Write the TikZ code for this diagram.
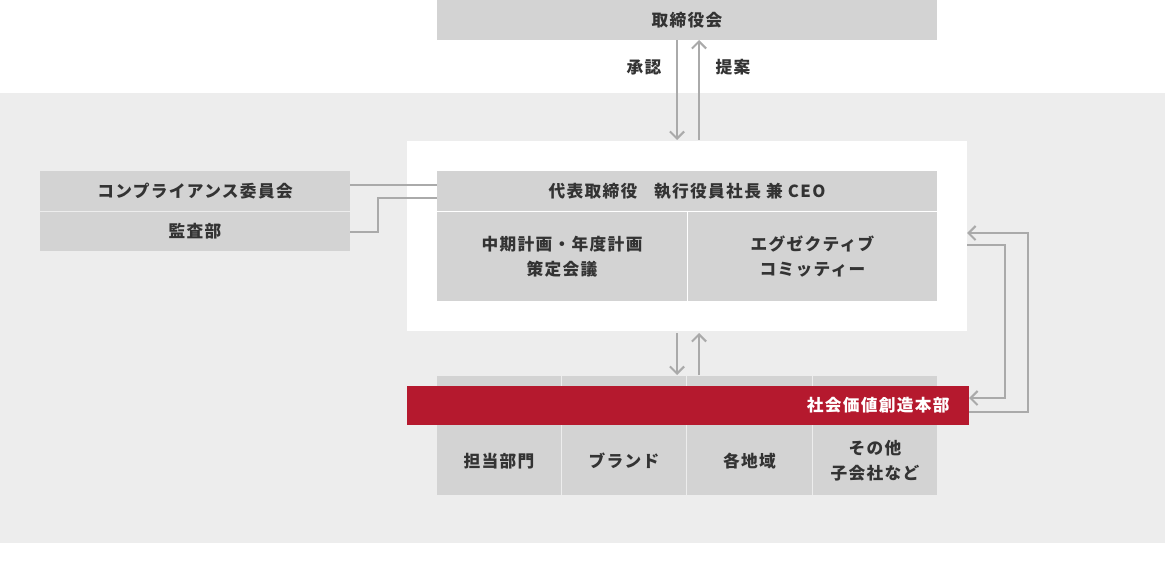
\documentclass[tikz,border=0pt]{standalone}
\usepackage{fontspec}
\newfontfamily\jpfont[LetterSpace=8]{Noto Sans CJK JP}
\usetikzlibrary{arrows.meta}
\definecolor{bgpanel}{HTML}{EDEDED}
\definecolor{boxgray}{HTML}{D3D3D3}
\definecolor{linegray}{HTML}{AAAAAA}
\definecolor{txtgray}{HTML}{333333}
\definecolor{brandred}{HTML}{B5192E}

\begin{document}
\begin{tikzpicture}[x=0.02cm, y=-0.02cm]
        % ================= 样式定义 =================
        \tikzset{
            gbox/.style={fill=boxgray, draw=none, text=txtgray, font=\jpfont\bfseries\fontsize{9.5}{14}\selectfont, align=center, inner sep=0pt},
            lbl/.style={text=txtgray, font=\jpfont\bfseries\fontsize{9.5}{14}\selectfont, inner sep=0pt},
            conn/.style={draw=linegray, line width=1.2pt},
            arr/.style={conn, -{Straight Barb[length=4pt, width=8pt]}}
        }
        \useasboundingbox (0,0) rectangle (1165,584);

        % ================= 背景 =================
        \fill[bgpanel] (0,93) rectangle (1165,543);
        \fill[white] (407,141) rectangle (967,331);

        % ================= 上部 =================
        \node[gbox, minimum width=500*0.02cm, minimum height=40*0.02cm] (board) at (687,20) {取締役会};
        \coordinate (bdL) at (677,40);  \coordinate (bdR) at (699,40);
        \coordinate (wtL) at (677,140); \coordinate (wtR) at (699,140);
        \draw[arr] (bdL) -- (wtL);
        \draw[arr] (wtR) -- (bdR);
        \node[lbl] (approve) at (644,67) {承認};
        \node[lbl] (propose) at (733,67) {提案};

        % ================= 中央 =================
        \node[gbox, minimum width=500*0.02cm, minimum height=40*0.02cm] (ceo) at (687,191) {代表取締役\hspace{1em}執行役員社長 兼 CEO};
        \node[gbox, minimum width=250*0.02cm, minimum height=89*0.02cm] (plan) at (562,256.5) {中期計画・年度計画\\策定会議};
        \node[gbox, minimum width=249*0.02cm, minimum height=89*0.02cm] (exec) at (812.5,256.5) {エグゼクティブ\\コミッティー};

        % ================= 左側 =================
        \node[gbox, minimum width=310*0.02cm, minimum height=40*0.02cm] (comp) at (195,191) {コンプライアンス委員会};
        \node[gbox, minimum width=310*0.02cm, minimum height=39*0.02cm] (audit) at (195,231.5) {監査部};
        \coordinate (cpR) at (350,185); \coordinate (cpC) at (437,185);
        \coordinate (adR) at (350,232); \coordinate (adC) at (437,198);
        \draw[conn] (cpR) -- (cpC);
        \draw[conn] (adR) -- (378,232) -- (378,198) -- (adC);

        % ================= 下部 =================
        \coordinate (wbL) at (677,333); \coordinate (wbR) at (699,333);
        \coordinate (buL) at (677,375); \coordinate (buR) at (699,375);
        \draw[arr] (wbL) -- (buL);
        \draw[arr] (buR) -- (wbR);
        \node[gbox, minimum width=124*0.02cm, minimum height=119*0.02cm] (u1) at (499,435.5) {};
        \node[gbox, minimum width=124*0.02cm, minimum height=119*0.02cm] (u2) at (624,435.5) {};
        \node[gbox, minimum width=125*0.02cm, minimum height=119*0.02cm] (u3) at (749.5,435.5) {};
        \node[gbox, minimum width=124*0.02cm, minimum height=119*0.02cm] (u4) at (875,435.5) {};
        \node[lbl] at (499,461) {担当部門};
        \node[lbl] at (624,461) {ブランド};
        \node[lbl] at (749.5,461) {各地域};
        \node[lbl, align=center] at (875,461) {その他\\子会社など};
        \fill[brandred] (407,386) rectangle (969,425);
        \node[lbl, text=white, anchor=east] (social) at (950,405.5) {社会価値創造本部};

        % ================= 右側 =================
        \coordinate (wbE1) at (967,233); \coordinate (wbE2) at (967,245);
        \coordinate (rdE1) at (969,398); \coordinate (rdE2) at (969,412);
        \draw[arr] (rdE2) -- (1028,412) -- (1028,233) -- (wbE1);
        \draw[arr] (wbE2) -- (1005,245) -- (1005,398) -- (rdE1);
\end{tikzpicture}
\end{document}
